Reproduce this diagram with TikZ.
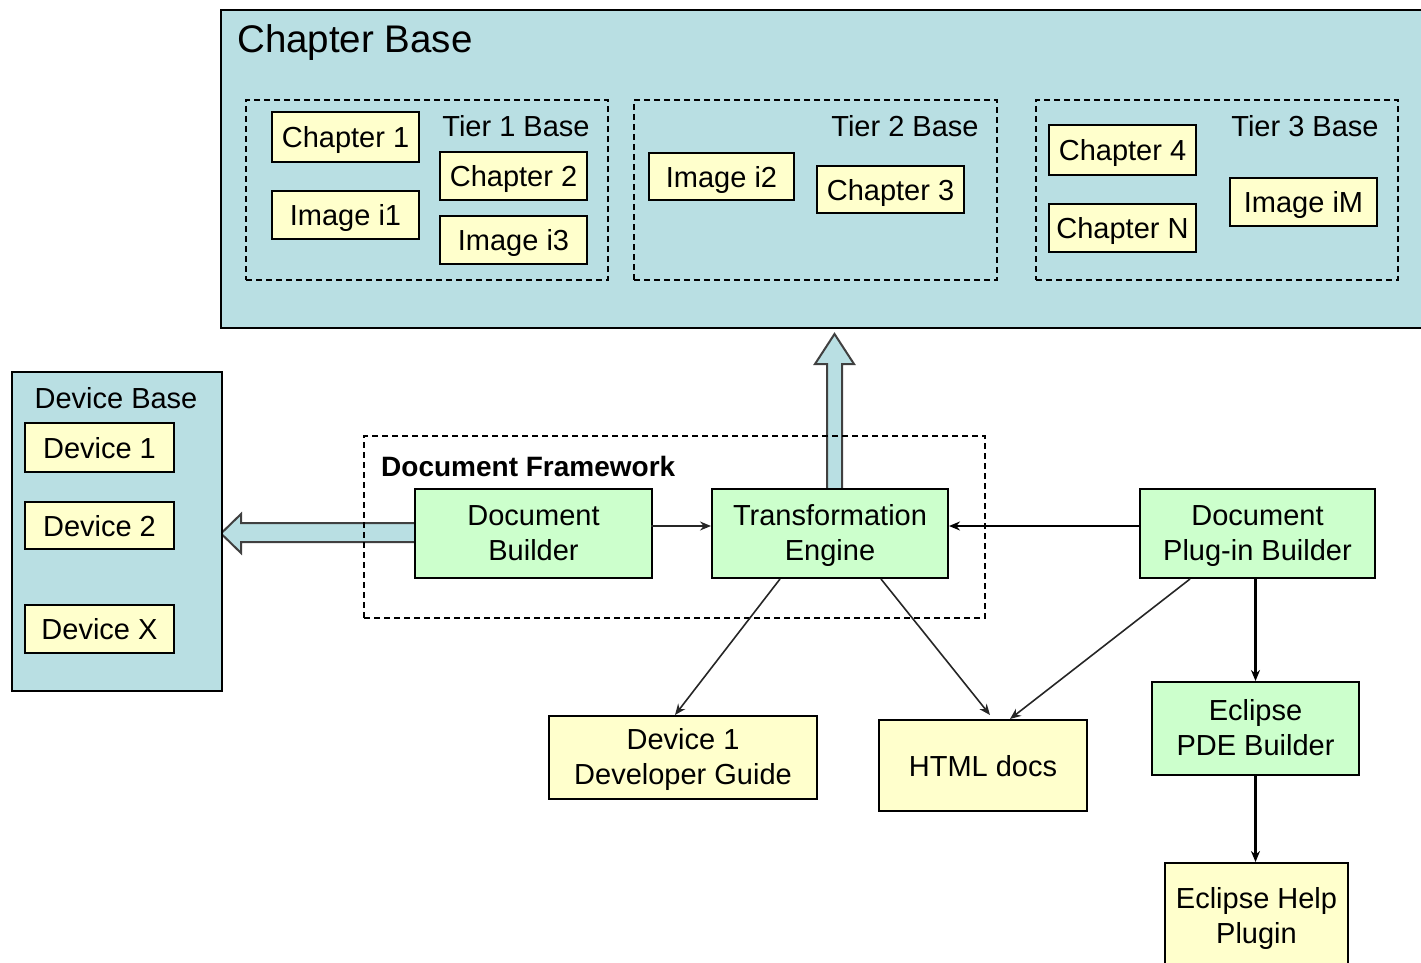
\documentclass[tikz,border=0pt]{standalone}
\usepackage{fontspec}
\setmainfont{Liberation Sans}
\usetikzlibrary{arrows.meta,calc,backgrounds}
\definecolor{basebg}{HTML}{B9DFE3}
\definecolor{itemfill}{HTML}{FFFFCC}
\definecolor{procfill}{HTML}{CCFFCC}
\definecolor{edgegray}{HTML}{404040}

\begin{document}
\begin{tikzpicture}[x=1pt,y=-1pt,
  txt/.style={font=\fontsize{29}{35}\selectfont},
  container/.style={draw=black, line width=2pt, fill=basebg, inner sep=0pt},
  tier/.style={draw=black, line width=1.3pt, dash pattern=on 6pt off 4pt, inner sep=0pt},
  item/.style={draw=black, line width=2pt, fill=itemfill, inner sep=0pt, txt, text height=21pt, text depth=-4pt},
  twoline/.style={draw=black, line width=2pt, inner sep=0pt, txt, align=center, text height=56pt, text depth=3pt},
  proc/.style={twoline, fill=procfill},
  doc/.style={twoline, fill=itemfill},
  label/.style={inner sep=0pt, txt},
  flow/.style={draw=black!85, line width=1.6pt, -{Stealth[length=11pt,width=9pt]}},
  strong/.style={flow, draw=black, line width=2.2pt},
  block/.style={draw=edgegray, line width=2pt, fill=basebg, line join=miter},
]
\useasboundingbox (0,0) rectangle (1421,963);

% ---- Chapter base with its three tiers ----
\node[container, minimum width=1202, minimum height=318] (cb) at (822,169) {};
\node[label, anchor=base west, font=\fontsize{38.5}{46}\selectfont] (cbl) at (237,53) {Chapter Base};

\node[tier, minimum width=362, minimum height=180] (t1) at (427,190) {};
\node[tier, minimum width=363, minimum height=180] (t2) at (815.5,190) {};
\node[tier, minimum width=362, minimum height=180] (t3) at (1217,190) {};
\node[label, anchor=base] (t1l) at (516,137) {Tier 1 Base};
\node[label, anchor=base] (t2l) at (905,137) {Tier 2 Base};
\node[label, anchor=base] (t3l) at (1305,137) {Tier 3 Base};

\node[item, minimum width=147, minimum height=50] (ch1) at (345.5,137) {Chapter 1};
\node[item, minimum width=147, minimum height=48] (im1) at (345.5,215) {Image i1};
\node[item, minimum width=147, minimum height=48] (ch2) at (513.5,176) {Chapter 2};
\node[item, minimum width=147, minimum height=48] (im3) at (513.5,240) {Image i3};
\node[item, minimum width=145, minimum height=47] (im2) at (721.5,176.5) {Image i2};
\node[item, minimum width=147, minimum height=47] (ch3) at (890.5,189.5) {Chapter 3};
\node[item, minimum width=147, minimum height=49] (ch4) at (1122.5,150) {Chapter 4};
\node[item, minimum width=147, minimum height=48] (chn) at (1122.5,228) {Chapter N};
\node[item, minimum width=147, minimum height=48] (imm) at (1303.5,202) {Image iM};

% ---- Device base ----
\node[container, minimum width=210, minimum height=319] (devb) at (117,531.5) {};
\node[label, anchor=base] (devbl) at (116,408) {Device Base};
\node[item, minimum width=149, minimum height=49] (dv1) at (99.5,447.5) {Device 1};
\node[item, minimum width=149, minimum height=47] (dv2) at (99.5,525.5) {Device 2};
\node[item, minimum width=149, minimum height=48] (dvx) at (99.5,629) {Device X};

% ---- Document framework ----
\node[tier, minimum width=621, minimum height=182] (fw) at (674.5,527) {};
\node[label, anchor=base west, font=\bfseries\fontsize{28}{34}\selectfont] (fwl) at (381,476) {Document Framework};
\node[proc, minimum width=237, minimum height=89] (db) at (533.5,533.5) {Document\\Builder};
\node[proc, minimum width=236, minimum height=89] (te) at (830,533.5) {Transformation\\Engine};
\node[proc, minimum width=235, minimum height=89] (pb) at (1257.5,533.5) {Document\\Plug-in Builder};

% ---- Outputs ----
\node[proc, minimum width=207, minimum height=93] (pde) at (1255.5,728.5) {Eclipse\\PDE Builder};
\node[doc, minimum width=183, minimum height=107] (help) at (1256.5,916.5) {Eclipse Help\\Plugin};
\node[doc, minimum width=268, minimum height=83] (dg) at (683,757.5) {Device 1\\Developer Guide};
\node[item, minimum width=208, minimum height=91, text depth=-2pt] (html) at (983,765.5) {HTML docs};

% ---- Block arrows (behind everything) ----
\begin{scope}[on background layer]
  \coordinate (lt) at ($(devb.east |- db.west)+(-2,0)$);
  \draw[block] ($(db.west)+(0,-10.5)$) -- ($(lt)+(20,-10.5)$) -- ($(lt)+(20,-19.5)$) -- (lt)
     -- ($(lt)+(20,19.5)$) -- ($(lt)+(20,8.5)$) -- ($(db.west)+(0,8.5)$);
  \coordinate (ub) at ($(te.north)+(4.5,0)$);
  \coordinate (ut) at ($(ub |- cb.south)+(0,5)$);
  \draw[block] ($(ub)+(-7.5,0)$) -- ($(ut)+(-7.5,30)$) -- ($(ut)+(-19.5,30)$) -- (ut)
     -- ($(ut)+(19.5,30)$) -- ($(ut)+(7.5,30)$) -- ($(ub)+(7.5,0)$);
\end{scope}

% ---- Connectors ----
\coordinate (dbout) at ($(db.east)+(-2,-7.5)$);
\coordinate (pbout) at ($(pb.west)+(0,-7.5)$);
\draw[flow] (dbout) -- (te.west |- dbout);
\draw[strong] (pbout) -- (te.east |- pbout);
\draw[flow] ($(te.south)+(-50,0)$) -- ($(dg.north)+(-8,0)$);
\draw[flow] ($(te.south)+(51,0)$) -- ($(html.north)+(7,-4)$);
\draw[flow] ($(pb.south)+(-67.5,0)$) -- ($(html.north)+(27,0)$);
\draw[strong] (pde.north |- pb.south) -- (pde.north);
\draw[strong] (pde.south) -- (pde.south |- help.north);
\end{tikzpicture}
\end{document}
